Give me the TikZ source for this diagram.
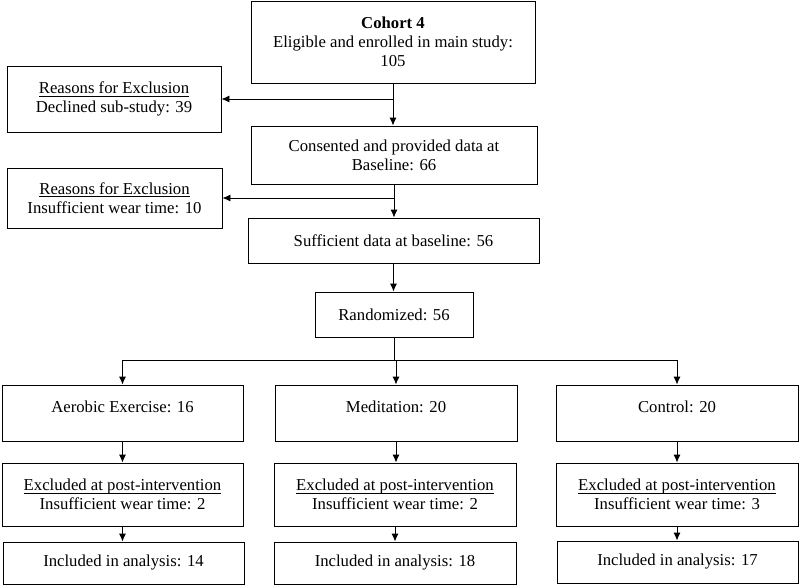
\documentclass[tikz,border=0pt]{standalone}
\usepackage{amsmath}
\usepackage{fontspec}
\setmainfont{Liberation Serif}
\usetikzlibrary{arrows.meta}

\newcommand{\ulhead}[1]{\underline{\smash[b]{#1}}}

\tikzset{
  box/.style={draw, line width=0.9pt, align=center, inner sep=2pt,
    font=\fontsize{16.7}{19}\selectfont},
  armbox/.style={box, minimum height=56pt, text depth=13pt},
  flow/.style={line width=0.9pt, -{Latex[length=8pt,width=7pt]}},
}

\begin{document}
\begin{tikzpicture}[x=1pt,y=-1pt]
    \useasboundingbox (0,0) rectangle (800,586);
    % main column
    \node[box, minimum width=284pt, minimum height=82pt] (cohort) at (393,42) {\textbf{Cohort 4}\\Eligible and enrolled in main study:\\105};
    \node[box, minimum width=286pt, minimum height=58pt] (consent) at (394,155) {Consented and provided data at\\Baseline: 66};
    \node[box, minimum width=291pt, minimum height=45pt] (suff) at (393.5,240.5) {Sufficient data at baseline: 56};
    \node[box, minimum width=158pt, minimum height=45pt] (rand) at (394,314.5) {Randomized: 56};
    % exclusions
    \node[box, minimum width=214pt, minimum height=66pt] (excl1) at (114,99) {\ulhead{Reasons for Exclusion}\\Declined sub-study: 39};
    \node[box, minimum width=215pt, minimum height=60pt] (excl2) at (114.5,198) {\ulhead{Reasons for Exclusion}\\Insufficient wear time: 10};
    % arms
    \node[armbox, minimum width=241pt] (aero) at (122.5,413) {Aerobic Exercise: 16};
    \node[armbox, minimum width=242pt] (medi) at (396,413) {Meditation: 20};
    \node[armbox, minimum width=242pt] (ctrl) at (677,413) {Control: 20};
    \node[box, minimum width=241pt, minimum height=63pt] (exA) at (122.5,494.5) {\ulhead{Excluded at post-intervention}\\Insufficient wear time: 2};
    \node[box, minimum width=242pt, minimum height=63pt] (exM) at (395,494.5) {\ulhead{Excluded at post-intervention}\\Insufficient wear time: 2};
    \node[box, minimum width=242pt, minimum height=63pt] (exC) at (677,494.5) {\ulhead{Excluded at post-intervention}\\Insufficient wear time: 3};
    \node[box, minimum width=241pt, minimum height=42pt] (inA) at (123.5,563) {Included in analysis: 14};
    \node[box, minimum width=242pt, minimum height=42pt] (inM) at (395,563) {Included in analysis: 18};
    \node[box, minimum width=241pt, minimum height=42pt] (inC) at (677.5,562) {Included in analysis: 17};

    \draw[flow] (cohort.south) -- (cohort.south |- consent.north);
    \draw[flow] (cohort.south |- excl1.east) -- (excl1.east);
    \draw[flow] (consent.south) -- (consent.south |- suff.north);
    \draw[flow] (consent.south |- excl2.east) -- (excl2.east);
    \draw[flow] (suff.south) -- (suff.south |- rand.north);
    \coordinate (split) at (394,360);
    \draw[line width=0.9pt] (rand.south) -- (split);
    \draw[line width=0.9pt] (aero.north |- split) -- (ctrl.north |- split);
    \foreach \n in {aero,medi,ctrl}
        \draw[flow] (\n.north |- split) -- (\n.north);
    \foreach \a/\b in {aero/exA,medi/exM,ctrl/exC,exA/inA,exM/inM,exC/inC}
        \draw[flow] (\a.south) -- (\a.south |- \b.north);
\end{tikzpicture}
\end{document}
